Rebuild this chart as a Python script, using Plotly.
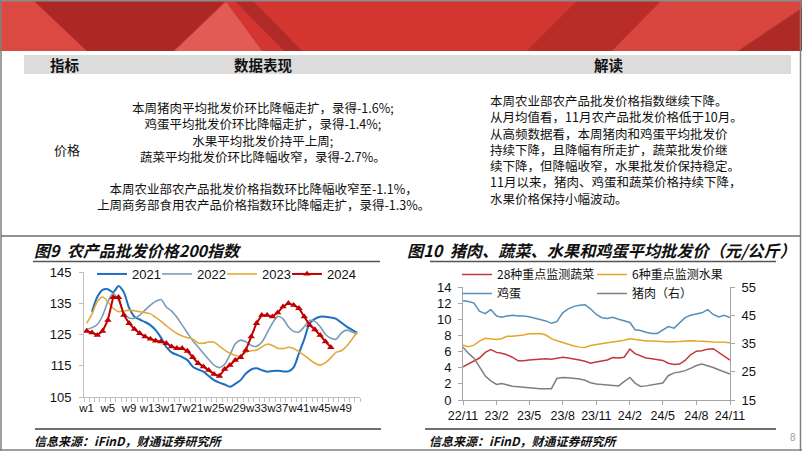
import plotly.graph_objects as go

W, H = 802, 451


def fx(p):
    return p / W


def fy(p):
    return 1 - p / H


# ---------------- Chart 9 data: 农产品批发价格200指数 ----------------
weeks = list(range(1, 53))
week_ticks = [1, 5, 9, 13, 17, 21, 25, 29, 33, 37, 41, 45, 49]
week_tick_text = ["w1", "w5", "w9", "w13", "w17", "w21", "w25", "w29", "w33",
                  "w37", "w41", "w45", "w49"]

idx_2021 = [None, 132.3, 137.0, 139.3, 139.5, 138.5, 140.5, 138.5, 133.5, 130.7,
            129.8, 129.0, 128.0, 126.4, 124.0, 121.0, 119.3, 118.5, 117.8, 116.8,
            114.7, 113.8, 113.1, 111.7, 110.4, 109.6, 109.0, 108.3, 109.2, 110.4,
            112.5, 113.8, 114.2, 113.6, 113.1, 113.3, 113.4, 113.2, 113.2, 114.5,
            119.0, 123.5, 128.5, 130.0, 130.7, 130.7, 130.4, 130.0, 128.8, 127.5,
            126.5, 125.5]
idx_2022 = [126.7, 127.2, 128.2, 131.0, 135.5, 138.2, 136.0, 132.0, 130.3, 130.2,
            131.2, 132.8, 134.4, 135.6, 136.2, 133.8, 132.5, 130.5, 128.0, 125.5,
            123.0, 121.0, 119.0, 117.0, 115.2, 114.4, 115.5, 118.5, 122.0, 123.2,
            122.7, 121.5, 121.2, 122.5, 125.5, 128.6, 130.8, 130.0, 127.5, 126.0,
            125.8, 127.5, 129.5, 129.2, 127.5, 125.0, 123.8, 123.5, 125.5, 126.4,
            125.8, 125.2]
idx_2023 = [128.6, 131.5, 135.5, 137.0, 135.5, 133.4, 132.3, 132.5, 132.8, 132.6,
            132.3, 132.0, 131.6, 130.5, 129.3, 127.8, 126.5, 125.3, 124.5, 124.0,
            123.5, 122.3, 122.2, 122.6, 122.5, 121.3, 120.0, 119.0, 118.3, 118.0,
            119.3, 119.8, 120.0, 121.0, 121.9, 121.5, 120.6, 120.5, 120.9, 120.5,
            119.5, 118.3, 117.0, 115.8, 115.2, 116.0, 117.5, 119.3, 119.8, 121.3,
            123.5, 125.9]
idx_2024 = [126.1, 125.6, 124.8, 126.1, 129.6, 136.9, 136.9, 131.2, 128.6, 126.7,
            125.4, 124.3, 123.6, 123.0, 122.7, 122.2, 121.1, 120.6, 120.6, 119.7,
            117.7, 115.8, 114.7, 113.6, 112.3, 111.7, 113.9, 115.2, 116.8, 117.7,
            120.0, 124.3, 128.6, 131.2, 131.2, 130.7, 132.0, 133.9, 135.0, 134.4,
            133.4, 130.7, 128.0, 126.6, 124.8, 122.7, 120.9]

# ---------------- Chart 10 data: 平均批发价 ----------------
dates = ["2022-11-01", "2022-11-16", "2022-12-01", "2022-12-16", "2023-01-01",
         "2023-01-16", "2023-02-01", "2023-02-15", "2023-03-01", "2023-03-16",
         "2023-04-01", "2023-04-16", "2023-05-01", "2023-05-16", "2023-06-01",
         "2023-06-16", "2023-07-01", "2023-07-16", "2023-08-01", "2023-08-16",
         "2023-09-01", "2023-09-16", "2023-10-01", "2023-10-16", "2023-11-01",
         "2023-11-16", "2023-12-01", "2023-12-16", "2024-01-01", "2024-01-16",
         "2024-02-01", "2024-02-15", "2024-03-01", "2024-03-16", "2024-04-01",
         "2024-04-16", "2024-05-01", "2024-05-16", "2024-06-01", "2024-06-16",
         "2024-07-01", "2024-07-16", "2024-08-01", "2024-08-16", "2024-09-01",
         "2024-09-16", "2024-10-01", "2024-10-16", "2024-11-01"]
veg = [4.10, 4.45, 4.80, 5.20, 5.90, 6.25, 5.90, 5.80, 5.60, 5.30,
       4.85, 4.85, 4.95, 5.00, 5.10, 5.10, 5.05, 5.15, 5.30, 5.20,
       5.10, 4.95, 4.80, 4.55, 4.70, 4.85, 4.95, 5.25, 5.20, 5.30,
       6.30, 5.75, 5.45, 5.20, 5.10, 5.00, 4.90, 4.55, 4.40, 4.45,
       4.90, 5.60, 6.05, 6.10, 6.30, 6.35, 5.90, 5.35, 4.95]
fruit = [6.80, 6.60, 6.80, 7.30, 7.65, 7.55, 7.50, 7.60, 7.90, 7.90,
         7.95, 8.05, 8.20, 8.25, 8.25, 8.05, 7.60, 7.35, 7.10, 6.90,
         6.70, 6.55, 6.50, 6.75, 6.90, 7.05, 7.10, 7.20, 7.30, 7.40,
         7.60, 7.50, 7.35, 7.30, 7.30, 7.30, 7.25, 7.20, 7.20, 7.25,
         7.30, 7.35, 7.30, 7.30, 7.25, 7.20, 7.20, 7.15, 7.10]
egg = [12.30, 12.20, 12.00, 11.00, 10.70, 11.20, 10.40, 10.25, 10.40, 10.50,
       10.40, 10.40, 10.30, 10.15, 10.00, 9.80, 9.50, 9.70, 10.80, 11.30,
       11.60, 11.75, 11.80, 11.30, 10.60, 10.20, 10.10, 10.25, 10.00, 9.80,
       9.60, 8.70, 8.60, 8.40, 8.25, 8.25, 8.70, 9.10, 8.90, 9.60,
       10.20, 10.50, 10.70, 10.80, 11.20, 10.60, 10.30, 10.50, 10.20]
pork = [33.7, 31.5, 29.8, 26.8, 23.5, 21.8, 20.5, 20.8, 20.3, 19.9,
        19.7, 19.6, 19.5, 19.2, 19.0, 18.9, 19.0, 22.6, 23.0, 22.9,
        22.7, 22.4, 22.0, 21.1, 20.7, 20.5, 20.3, 20.1, 20.0, 21.5,
        23.0, 21.0, 19.8, 20.0, 20.3, 20.6, 21.0, 23.6, 24.6, 24.9,
        25.4, 26.2, 27.2, 27.7, 27.2, 26.5, 25.7, 25.0, 24.2]
date_ticks = ["2022-11-01", "2023-02-01", "2023-05-01", "2023-08-01", "2023-11-01",
              "2024-02-01", "2024-05-01", "2024-08-01", "2024-11-01"]
date_tick_text = ["22/11", "23/2", "23/5", "23/8", "23/11", "24/2", "24/5", "24/8", "24/11"]

# ---------------- Text content ----------------
header_texts = ["指标", "数据表现", "解读"]
row_label = "价格"
middle_block1 = ["本周猪肉平均批发价环比降幅走扩，录得-1.6%;",
                 "鸡蛋平均批发价环比降幅走扩，录得-1.4%;",
                 "水果平均批发价持平上周;",
                 "蔬菜平均批发价环比降幅收窄，录得-2.7%。"]
middle_block2 = ["本周农业部农产品批发价格指数环比降幅收窄至-1.1%，",
                 "上周商务部食用农产品价格指数环比降幅走扩，录得-1.3%。"]
right_lines = ["本周农业部农产品批发价格指数继续下降。",
               "从月均值看，11月农产品批发价格低于10月。",
               "从高频数据看，本周猪肉和鸡蛋平均批发价",
               "持续下降，且降幅有所走扩，蔬菜批发价继",
               "续下降，但降幅收窄，水果批发价保持稳定。",
               "11月以来，猪肉、鸡蛋和蔬菜价格持续下降，",
               "水果价格保持小幅波动。"]
title9 = "图9  农产品批发价格200指数"
title10 = "图10  猪肉、蔬菜、水果和鸡蛋平均批发价（元/公斤）"
source_text = "信息来源：iFinD，财通证券研究所"

CJK = "Noto Sans CJK SC"
LAT = "Liberation Sans, Arial, sans-serif"

fig = go.Figure()

# Chart 9 traces (each in its own one-item legend so they can sit close together)
fig.add_trace(go.Scatter(x=weeks, y=idx_2021, name="2021", mode="lines",
                         line=dict(color="#1f6fc0", width=2, shape="spline", smoothing=0.8),
                         xaxis="x", yaxis="y", legend="legend", connectgaps=False))
fig.add_trace(go.Scatter(x=weeks, y=idx_2022, name="2022", mode="lines",
                         line=dict(color="#7b9cb9", width=1.6, shape="spline", smoothing=0.8),
                         xaxis="x", yaxis="y", legend="legend3"))
fig.add_trace(go.Scatter(x=weeks, y=idx_2023, name="2023", mode="lines",
                         line=dict(color="#e3a93a", width=1.6, shape="spline", smoothing=0.8),
                         xaxis="x", yaxis="y", legend="legend4"))
fig.add_trace(go.Scatter(x=weeks[:len(idx_2024)], y=idx_2024, name="2024", mode="lines+markers",
                         line=dict(color="#c00000", width=2),
                         marker=dict(symbol="triangle-up", size=6.5, color="#c00000"),
                         xaxis="x", yaxis="y", legend="legend5"))

# Chart 10 traces
fig.add_trace(go.Scatter(x=dates, y=veg, name="28种重点监测蔬菜", mode="lines",
                         line=dict(color="#c0393b", width=1.5),
                         xaxis="x2", yaxis="y2", legend="legend2"))
fig.add_trace(go.Scatter(x=dates, y=fruit, name="6种重点监测水果", mode="lines",
                         line=dict(color="#e6a52b", width=1.5),
                         xaxis="x2", yaxis="y2", legend="legend6"))
fig.add_trace(go.Scatter(x=dates, y=egg, name="鸡蛋", mode="lines",
                         line=dict(color="#5291b8", width=1.5),
                         xaxis="x2", yaxis="y2", legend="legend2"))
fig.add_trace(go.Scatter(x=dates, y=pork, name="猪肉（右）", mode="lines",
                         line=dict(color="#7f7f7f", width=1.5),
                         xaxis="x2", yaxis="y3", legend="legend6"))

axis_common = dict(showgrid=False, zeroline=False, showline=True, linewidth=1,
                   tickfont=dict(family=LAT, size=13, color="#111"))


def one_legend(xpx, ypx, font_family=LAT, size=13):
    return dict(orientation="v", x=fx(xpx), y=fy(ypx), xanchor="left", yanchor="top",
                font=dict(family=font_family, size=size, color="#111"),
                bgcolor="rgba(0,0,0,0)", borderwidth=0, itemwidth=30,
                tracegroupgap=0)


leg9_y = 259
fig.update_layout(
    width=W, height=H, margin=dict(l=0, r=0, t=0, b=0, autoexpand=False),
    paper_bgcolor="white", plot_bgcolor="rgba(0,0,0,0)",
    showlegend=True,
    xaxis=dict(domain=[fx(84), fx(360)], range=[0.5, 52.5], anchor="y",
               tickmode="array", tickvals=week_ticks, ticktext=week_tick_text,
               ticks="", linecolor="#bfbfbf", tickangle=0,
               minor=dict(ticks="outside", ticklen=4, tick0=0.5, dtick=1, tickcolor="#bfbfbf"),
               **{**axis_common, "tickfont": dict(family=LAT, size=11.5, color="#111")}),
    yaxis=dict(domain=[fy(397), fy(272)], range=[105, 145], tick0=105, dtick=10, anchor="x",
               ticks="outside", ticklen=4, tickcolor="#bfbfbf", linecolor="#bfbfbf",
               ticklabelstandoff=5, **axis_common),
    xaxis2=dict(domain=[fx(463), fx(730)], type="date",
                range=["2022-11-01", "2024-11-01"], anchor="y2",
                tickmode="array", tickvals=date_ticks, ticktext=date_tick_text,
                ticks="outside", ticklen=4, tickcolor="#a6a6a6", linecolor="#a6a6a6",
                tickangle=0,
                **{**axis_common, "tickfont": dict(family=LAT, size=12.5, color="#111")}),
    yaxis2=dict(domain=[fy(400), fy(287)], range=[0, 14], tick0=0, dtick=2, anchor="x2",
                ticks="outside", ticklen=4, tickcolor="#a6a6a6", linecolor="#a6a6a6",
                ticklabelstandoff=4, **axis_common),
    yaxis3=dict(range=[15, 55], tick0=15, dtick=10, overlaying="y2", side="right", anchor="x2",
                ticks="outside", ticklen=4, tickcolor="#a6a6a6", linecolor="#a6a6a6",
                ticklabelstandoff=4, **axis_common),
    legend=one_legend(92, leg9_y),
    legend3=one_legend(157, leg9_y),
    legend4=one_legend(222, leg9_y),
    legend5=one_legend(287, leg9_y),
    legend2=one_legend(457, 260, CJK, 12),
    legend6=one_legend(592, 260, CJK, 12),
)

shapes = []


def rect(x0, y0, x1, y1, fill):
    shapes.append(dict(type="rect", xref="paper", yref="paper",
                       x0=fx(x0), x1=fx(x1), y0=fy(y1), y1=fy(y0),
                       fillcolor=fill, line=dict(width=0), layer="below"))


def poly(pts, fill):
    path = "M " + " L ".join(f"{fx(a):.5f},{fy(b):.5f}" for a, b in pts) + " Z"
    shapes.append(dict(type="path", xref="paper", yref="paper", path=path,
                       fillcolor=fill, line=dict(width=0), layer="below"))


def hline(x0, x1, y, color, lw):
    shapes.append(dict(type="line", xref="paper", yref="paper",
                       x0=fx(x0), x1=fx(x1), y0=fy(y), y1=fy(y),
                       line=dict(color=color, width=lw)))


def vline(x, y0, y1, color, lw):
    shapes.append(dict(type="line", xref="paper", yref="paper",
                       x0=fx(x), x1=fx(x), y0=fy(y0), y1=fy(y1),
                       line=dict(color=color, width=lw)))


# red banner
rect(0, 0, 802, 51, "#d33530")
poly([(0, 0), (33, 0), (87, 51), (0, 51)], "#dc4842")
poly([(33, 0), (226, 0), (174, 51), (87, 51)], "#ab2824")
poly([(174, 51), (226, 2), (262, 51)], "#e25b55")
poly([(234, 0), (252, 0), (302, 51), (284, 51)], "#b02b27")
poly([(578, 0), (662, 0), (612, 51), (527, 51)], "#b82d28")
poly([(662, 0), (802, 0), (802, 51), (612, 51)], "#d9453f")
poly([(802, 8), (802, 51), (738, 51)], "#ad2a26")
hline(0, 802, 0.8, "#8c8c8c", 1.5)

# table header band
rect(24, 55, 791, 74, "#dcdcdc")

# frame + separators
vline(1, 0, 451, "#808080", 1.5)
vline(800.5, 0, 451, "#808080", 1.5)
hline(0, 802, 450, "#808080", 1.5)
hline(1, 800, 236, "#6e6e6e", 1.5)
hline(33, 380, 261.5, "#555555", 1.5)
hline(430, 776, 261.5, "#555555", 1.5)
hline(35, 381, 429, "#6e6e6e", 2)
hline(425, 776, 429, "#6e6e6e", 2)

fig.update_layout(shapes=shapes)

ann = []


def text(x, y, s, size, xanchor="center", family=CJK, color="#111", align="center"):
    ann.append(dict(xref="paper", yref="paper", x=fx(x), y=fy(y), text=s,
                    showarrow=False, xanchor=xanchor, yanchor="middle", align=align,
                    font=dict(family=family, size=size, color=color)))


text(65, 64.5, "<b>" + header_texts[0] + "</b>", 14.5)
text(263, 64.5, "<b>" + header_texts[1] + "</b>", 14.5)
text(609, 64.5, "<b>" + header_texts[2] + "</b>", 14.5)
text(67, 150, row_label, 13)
text(263, 132, "<br>".join(middle_block1), 12.5)
text(263, 196.5, "<br>".join(middle_block2), 12.5)
text(488, 150, "<br>".join(right_lines), 12.5, xanchor="left", align="left")
text(32, 250, "<b><i>" + title9 + "</i></b>", 16, xanchor="left")
text(405, 250, "<b><i>" + title10 + "</i></b>", 16.2, xanchor="left")
text(32, 440, "<b><i>" + source_text + "</i></b>", 12, xanchor="left")
text(427, 440, "<b><i>" + source_text + "</i></b>", 12, xanchor="left")
text(793, 437, "8", 10, family=LAT, color="#a0a0a0")

fig.update_layout(annotations=ann)

fig.write_html("out.html",
               config={"displayModeBar": False},
               post_script="document.body.style.margin='0';document.body.style.padding='0';"
                           "document.body.style.overflow='hidden';")
